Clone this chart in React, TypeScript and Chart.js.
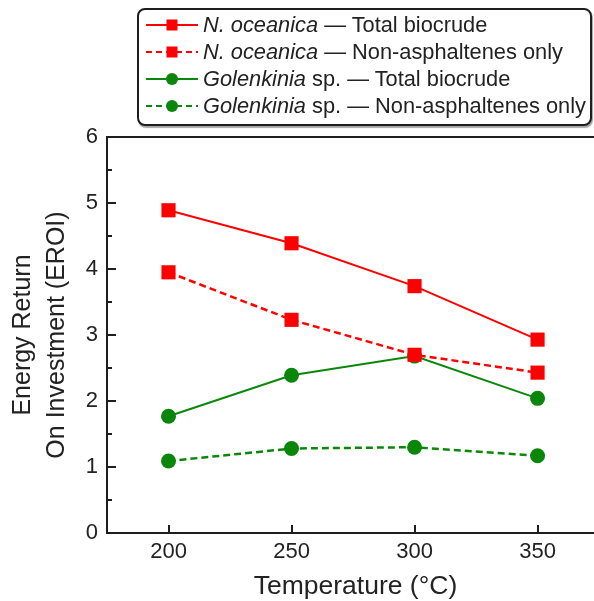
import React, { useEffect, useRef } from "react";
import { Chart, registerables } from "chart.js";
Chart.register(...registerables);

// ---- data ----
const temperatures = [200, 250, 300, 350];
const nOceanicaTotal = [4.89, 4.39, 3.74, 2.93];
const nOceanicaNonAsph = [3.95, 3.23, 2.7, 2.43];
const golenkiniaTotal = [1.77, 2.39, 2.68, 2.04];
const golenkiniaNonAsph = [1.09, 1.28, 1.3, 1.17];

const xTickValues = [200, 250, 300, 350];
const yMajorTicks = [0, 1, 2, 3, 4, 5, 6];
const yMinorTicks = [0.5, 1.5, 2.5, 3.5, 4.5, 5.5];

const seriesSpecies = ["N. oceanica", "N. oceanica", "Golenkinia", "Golenkinia"];
const seriesSpeciesSuffix = ["", "", " sp.", " sp."];
const seriesKind = ["Total biocrude", "Non-asphaltenes only", "Total biocrude", "Non-asphaltenes only"];

const RED = "#ff0000";
const GREEN = "#0a870a";
const AXIS = "#1e1e1e";
const FONT = "'Liberation Sans', Arial, Helvetica, sans-serif";

const seriesValues = [nOceanicaTotal, nOceanicaNonAsph, golenkiniaTotal, golenkiniaNonAsph];
const seriesColor = [RED, RED, GREEN, GREEN];
const seriesDashed = [false, true, false, true];
const seriesMarker = ["rect", "rect", "circle", "circle"];

const innerTicks = {
  id: "innerTicks",
  afterDatasetsDraw(chart: any) {
    const { ctx, chartArea, scales } = chart;
    const y = scales.y;
    const x = scales.x;
    ctx.save();
    ctx.strokeStyle = AXIS;
    ctx.lineWidth = 2;
    ctx.beginPath();
    for (const v of yMajorTicks) {
      const py = Math.round(y.getPixelForValue(v));
      ctx.moveTo(chartArea.left, py);
      ctx.lineTo(chartArea.left + 9, py);
    }
    for (const v of yMinorTicks) {
      const py = Math.round(y.getPixelForValue(v));
      ctx.moveTo(chartArea.left, py);
      ctx.lineTo(chartArea.left + 5, py);
    }
    for (const v of xTickValues) {
      const px = Math.round(x.getPixelForValue(v));
      ctx.moveTo(px, chartArea.bottom);
      ctx.lineTo(px, chartArea.bottom - 8);
    }
    ctx.stroke();
    ctx.restore();
  },
};

function LegendSample({ color, dashed, marker }: { color: string; dashed: boolean; marker: string }) {
  return (
    <svg width={52} height={20} style={{ display: "block", flex: "0 0 auto" }}>
      <line
        x1={0}
        y1={10}
        x2={52}
        y2={10}
        stroke={color}
        strokeWidth={2}
        strokeDasharray={dashed ? "6 4" : undefined}
      />
      {marker === "rect" ? (
        <rect x={20.5} y={4.5} width={11} height={11} fill={color} />
      ) : (
        <circle cx={26} cy={10} r={6} fill={color} />
      )}
    </svg>
  );
}

export default function App() {
  const canvasRef = useRef<HTMLCanvasElement | null>(null);

  useEffect(() => {
    document.body.style.margin = "0";
    document.body.style.overflow = "hidden";
    const canvas = canvasRef.current;
    if (!canvas) return;
    Chart.defaults.font.family = FONT;
    Chart.defaults.color = "#222";

    const datasets = seriesValues.map((vals, i) => ({
      label: `${seriesSpecies[i]}${seriesSpeciesSuffix[i]} — ${seriesKind[i]}`,
      data: temperatures.map((t, j) => ({ x: t, y: vals[j] })),
      borderColor: seriesColor[i],
      backgroundColor: seriesColor[i],
      borderWidth: seriesDashed[i] ? 2.5 : 2,
      borderDash: seriesDashed[i] ? [7, 4] : [],
      pointStyle: seriesMarker[i] as any,
      pointRadius: seriesMarker[i] === "rect" ? 10 : 7.5,
      pointBorderWidth: 0,
      pointBackgroundColor: seriesColor[i],
      tension: 0,
      fill: false,
      clip: false as any,
    }));

    const chart = new Chart(canvas, {
      type: "line",
      data: { datasets },
      plugins: [innerTicks],
      options: {
        animation: false,
        responsive: false,
        layout: { autoPadding: false, padding: { top: 137, left: 0, right: 0, bottom: 0 } },
        plugins: { legend: { display: false }, tooltip: { enabled: false } },
        scales: {
          x: {
            type: "linear",
            position: "bottom",
            min: 175,
            max: 377,
            afterBuildTicks: (scale: any) => {
              scale.ticks = xTickValues.map((v) => ({ value: v }));
            },
            afterFit: (scale: any) => {
              scale.height = 68;
            },
            grid: { display: false, drawTicks: false },
            border: { display: true, color: AXIS, width: 2 },
            ticks: { font: { size: 22 }, color: "#222", padding: 6 },
            title: {
              display: true,
              text: "Temperature (°C)",
              font: { size: 26.5, lineHeight: "28px" },
              color: "#222",
              padding: { top: 0, bottom: 0 },
            },
          },
          x2: {
            type: "linear",
            position: "top",
            min: 175,
            max: 377,
            afterFit: (scale: any) => {
              scale.height = 0;
            },
            grid: { display: false, drawTicks: false },
            border: { display: true, color: AXIS, width: 2 },
            ticks: { display: false },
          },
          y: {
            type: "linear",
            position: "left",
            min: 0,
            max: 6,
            afterBuildTicks: (scale: any) => {
              scale.ticks = yMajorTicks.map((v) => ({ value: v }));
            },
            afterFit: (scale: any) => {
              scale.width = 107;
            },
            grid: { display: false, drawTicks: false },
            border: { display: true, color: AXIS, width: 2 },
            ticks: { font: { size: 22 }, color: "#222", padding: 9 },
            title: {
              display: true,
              text: ["Energy Return", "On Investment (EROI)"],
              font: { size: 25, lineHeight: "34px" },
              color: "#222",
              padding: { top: 6, bottom: 0 },
            },
          },
        },
      },
    });
    return () => chart.destroy();
  }, []);

  return (
    <div style={{ position: "relative", width: 594, height: 601, background: "#fff", overflow: "hidden" }}>
      <canvas ref={canvasRef} width={604} height={601} style={{ display: "block" }} />
      <div
        style={{
          position: "absolute",
          left: 137,
          top: 8,
          width: 455,
          height: 118,
          boxSizing: "border-box",
          border: `2px solid ${AXIS}`,
          borderRadius: 8,
          boxShadow: "1px 2px 1px rgba(0,0,0,0.35)",
          background: "#fff",
          paddingTop: 1.5,
          paddingLeft: 7,
          fontFamily: FONT,
          fontSize: 21.8,
          color: "#222",
        }}
      >
        {seriesKind.map((kind, i) => (
          <div key={i} style={{ height: 27, display: "flex", alignItems: "center", whiteSpace: "nowrap" }}>
            <LegendSample color={seriesColor[i]} dashed={seriesDashed[i]} marker={seriesMarker[i]} />
            <span style={{ marginLeft: 5 }}>
              <i>{seriesSpecies[i]}</i>
              {seriesSpeciesSuffix[i]} — {kind}
            </span>
          </div>
        ))}
      </div>
    </div>
  );
}
